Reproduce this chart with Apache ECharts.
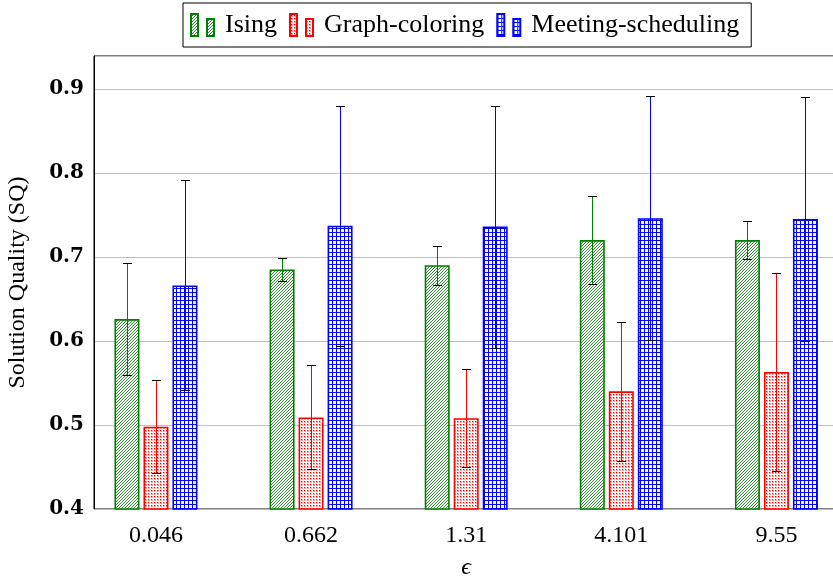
<!DOCTYPE html>
<html>
<head>
<meta charset="utf-8">
<script src="https://cdn.jsdelivr.net/npm/echarts@6/dist/echarts.min.js"></script>
<style>html,body{margin:0;padding:0;background:#fff}#c{width:833px;height:578px}</style>
</head>
<body>
<div id="c"></div>
<script>
const categories = ['0.046', '0.662', '1.31', '4.101', '9.55'];
const seriesNames = ['Ising', 'Graph-coloring', 'Meeting-scheduling'];
const isingVals = [0.626, 0.685, 0.690, 0.720, 0.720];
const isingErr  = [0.067, 0.014, 0.023, 0.052, 0.023];
const graphVals = [0.498, 0.509, 0.508, 0.540, 0.563];
const graphErr  = [0.055, 0.062, 0.058, 0.083, 0.118];
const meetVals  = [0.666, 0.737, 0.736, 0.746, 0.745];
const meetErr   = [0.125, 0.143, 0.144, 0.145, 0.145];
const yMin = 0.4, yMax = 0.939, yStep = 0.1;

const GREEN = '#008000', RED = '#ff0000', BLUE = '#0000ff';
const BAR_W = 25, BAR_GAP = 4, STEP = BAR_W + BAR_GAP;
const serifN = 'Liberation Serif';

// fill patterns (style only)
function makePattern(size, cells) {
  const c = document.createElement('canvas');
  c.width = size; c.height = size;
  const g = c.getContext('2d');
  g.fillStyle = '#ffffff'; g.fillRect(0, 0, size, size);
  cells.forEach(p => { g.fillStyle = p[4]; g.fillRect(p[0], p[1], p[2], p[3]); });
  return {image: c, repeat: 'repeat'};
}
const hatchPat = makePattern(3, [[2, 0, 1, 1, '#2e8f2e'], [1, 1, 1, 1, '#2e8f2e'], [0, 2, 1, 1, '#2e8f2e']]);
const dotPat = makePattern(3, [[1, 1, 2, 2, '#ffa0a0'], [1, 1, 1, 1, RED]]);
const gridPat = makePattern(4, [[0, 0, 4, 1, BLUE], [0, 0, 1, 4, BLUE]]);

const chart = echarts.init(document.getElementById('c'), null, {renderer: 'canvas'});

const fills = [hatchPat, dotPat, gridPat];
const colors = [GREEN, RED, BLUE];
const valsAll = [isingVals, graphVals, meetVals];
const errAll = [isingErr, graphErr, meetErr];

function barSeries(k) {
  return {
    name: seriesNames[k], type: 'bar', xAxisIndex: 1, yAxisIndex: 1,
    barWidth: BAR_W, barGap: (BAR_GAP / BAR_W * 100) + '%',
    data: valsAll[k],
    itemStyle: {color: fills[k], borderColor: colors[k], borderWidth: 1.6},
    emphasis: {disabled: true}, z: 2
  };
}
function errSeries(k) {
  const v = valsAll[k], e = errAll[k];
  return {
    name: seriesNames[k] + ' err', type: 'custom', xAxisIndex: 1, yAxisIndex: 1, z: 10,
    data: v.map((val, i) => [i, val - e[i], val + e[i]]),
    encode: {x: 0, y: [1, 2]},
    renderItem: function (params, api) {
      const lo = api.coord([api.value(0), api.value(1)]);
      const hi = api.coord([api.value(0), api.value(2)]);
      const x = Math.round(lo[0] + (k - 1) * STEP) + 0.5;
      const y1 = Math.round(lo[1]) + 0.5, y2 = Math.round(hi[1]) + 0.5;
      const cw = 4.5;
      return {type: 'group', children: [
        {type: 'line', shape: {x1: x, y1: y1, x2: x, y2: y2}, style: {stroke: colors[k], lineWidth: 1}},
        {type: 'line', shape: {x1: x - cw, y1: y1, x2: x + cw, y2: y1}, style: {stroke: '#000', lineWidth: 1}},
        {type: 'line', shape: {x1: x - cw, y1: y2, x2: x + cw, y2: y2}, style: {stroke: '#000', lineWidth: 1}}
      ]};
    }
  };
}

const option = {
  animation: false,
  backgroundColor: '#fff',
  legend: {
    data: seriesNames, top: 3, left: 183,
    icon: 'path://M0,0h7v22h-7z M16,5h7v17h-7z',
    itemWidth: 23, itemHeight: 22, itemGap: 12,
    padding: [9, 12, 9, 7],
    borderColor: '#000', borderWidth: 1, borderRadius: 0,
    textStyle: {fontFamily: serifN, fontSize: 26, color: '#000', padding: [0, 0, 0, 6]},
    selectedMode: false
  },
  grid: [
    {left: 94, right: -6, top: 56, bottom: 69, show: true, borderColor: '#000', borderWidth: 1,
     backgroundColor: 'transparent', outerBoundsMode: 'none', containLabel: false},
    {left: 78.4, width: 775.6, top: 56, bottom: 69, outerBoundsMode: 'none', containLabel: false}
  ],
  xAxis: [
    {type: 'value', gridIndex: 0, min: 0, max: 1, show: false},
    {type: 'category', gridIndex: 1, data: categories, boundaryGap: true,
     axisLine: {show: false}, axisTick: {show: false}, splitLine: {show: false},
     axisLabel: {fontFamily: serifN, fontSize: 24, color: '#000', margin: 15},
     name: 'ϵ', nameLocation: 'middle', nameGap: 47,
     nameTextStyle: {fontFamily: serifN, fontSize: 24, fontStyle: 'italic', color: '#000'}}
  ],
  yAxis: [
    {type: 'value', gridIndex: 0, min: yMin, max: yMax, interval: yStep,
     axisLine: {show: true, lineStyle: {color: '#000'}}, axisTick: {show: false},
     splitLine: {show: true, lineStyle: {color: '#bfbfbf', width: 1}},
     axisLabel: {fontFamily: 'DejaVu Serif', fontWeight: 'bold', fontSize: 20, color: '#000', margin: 10,
       showMaxLabel: false,
       formatter: v => (Math.abs(Math.round(v * 10) - v * 10) < 1e-6 ? v.toFixed(1) : '')},
     name: 'Solution Quality (SQ)', nameLocation: 'middle', nameGap: 64,
     nameTextStyle: {fontFamily: serifN, fontSize: 24, color: '#000'}},
    {type: 'value', gridIndex: 1, min: yMin, max: yMax, interval: yStep, show: false, splitLine: {show: false}}
  ],
  series: [barSeries(0), barSeries(1), barSeries(2), errSeries(0), errSeries(1), errSeries(2)]
};
chart.setOption(option);
</script>
</body>
</html>
